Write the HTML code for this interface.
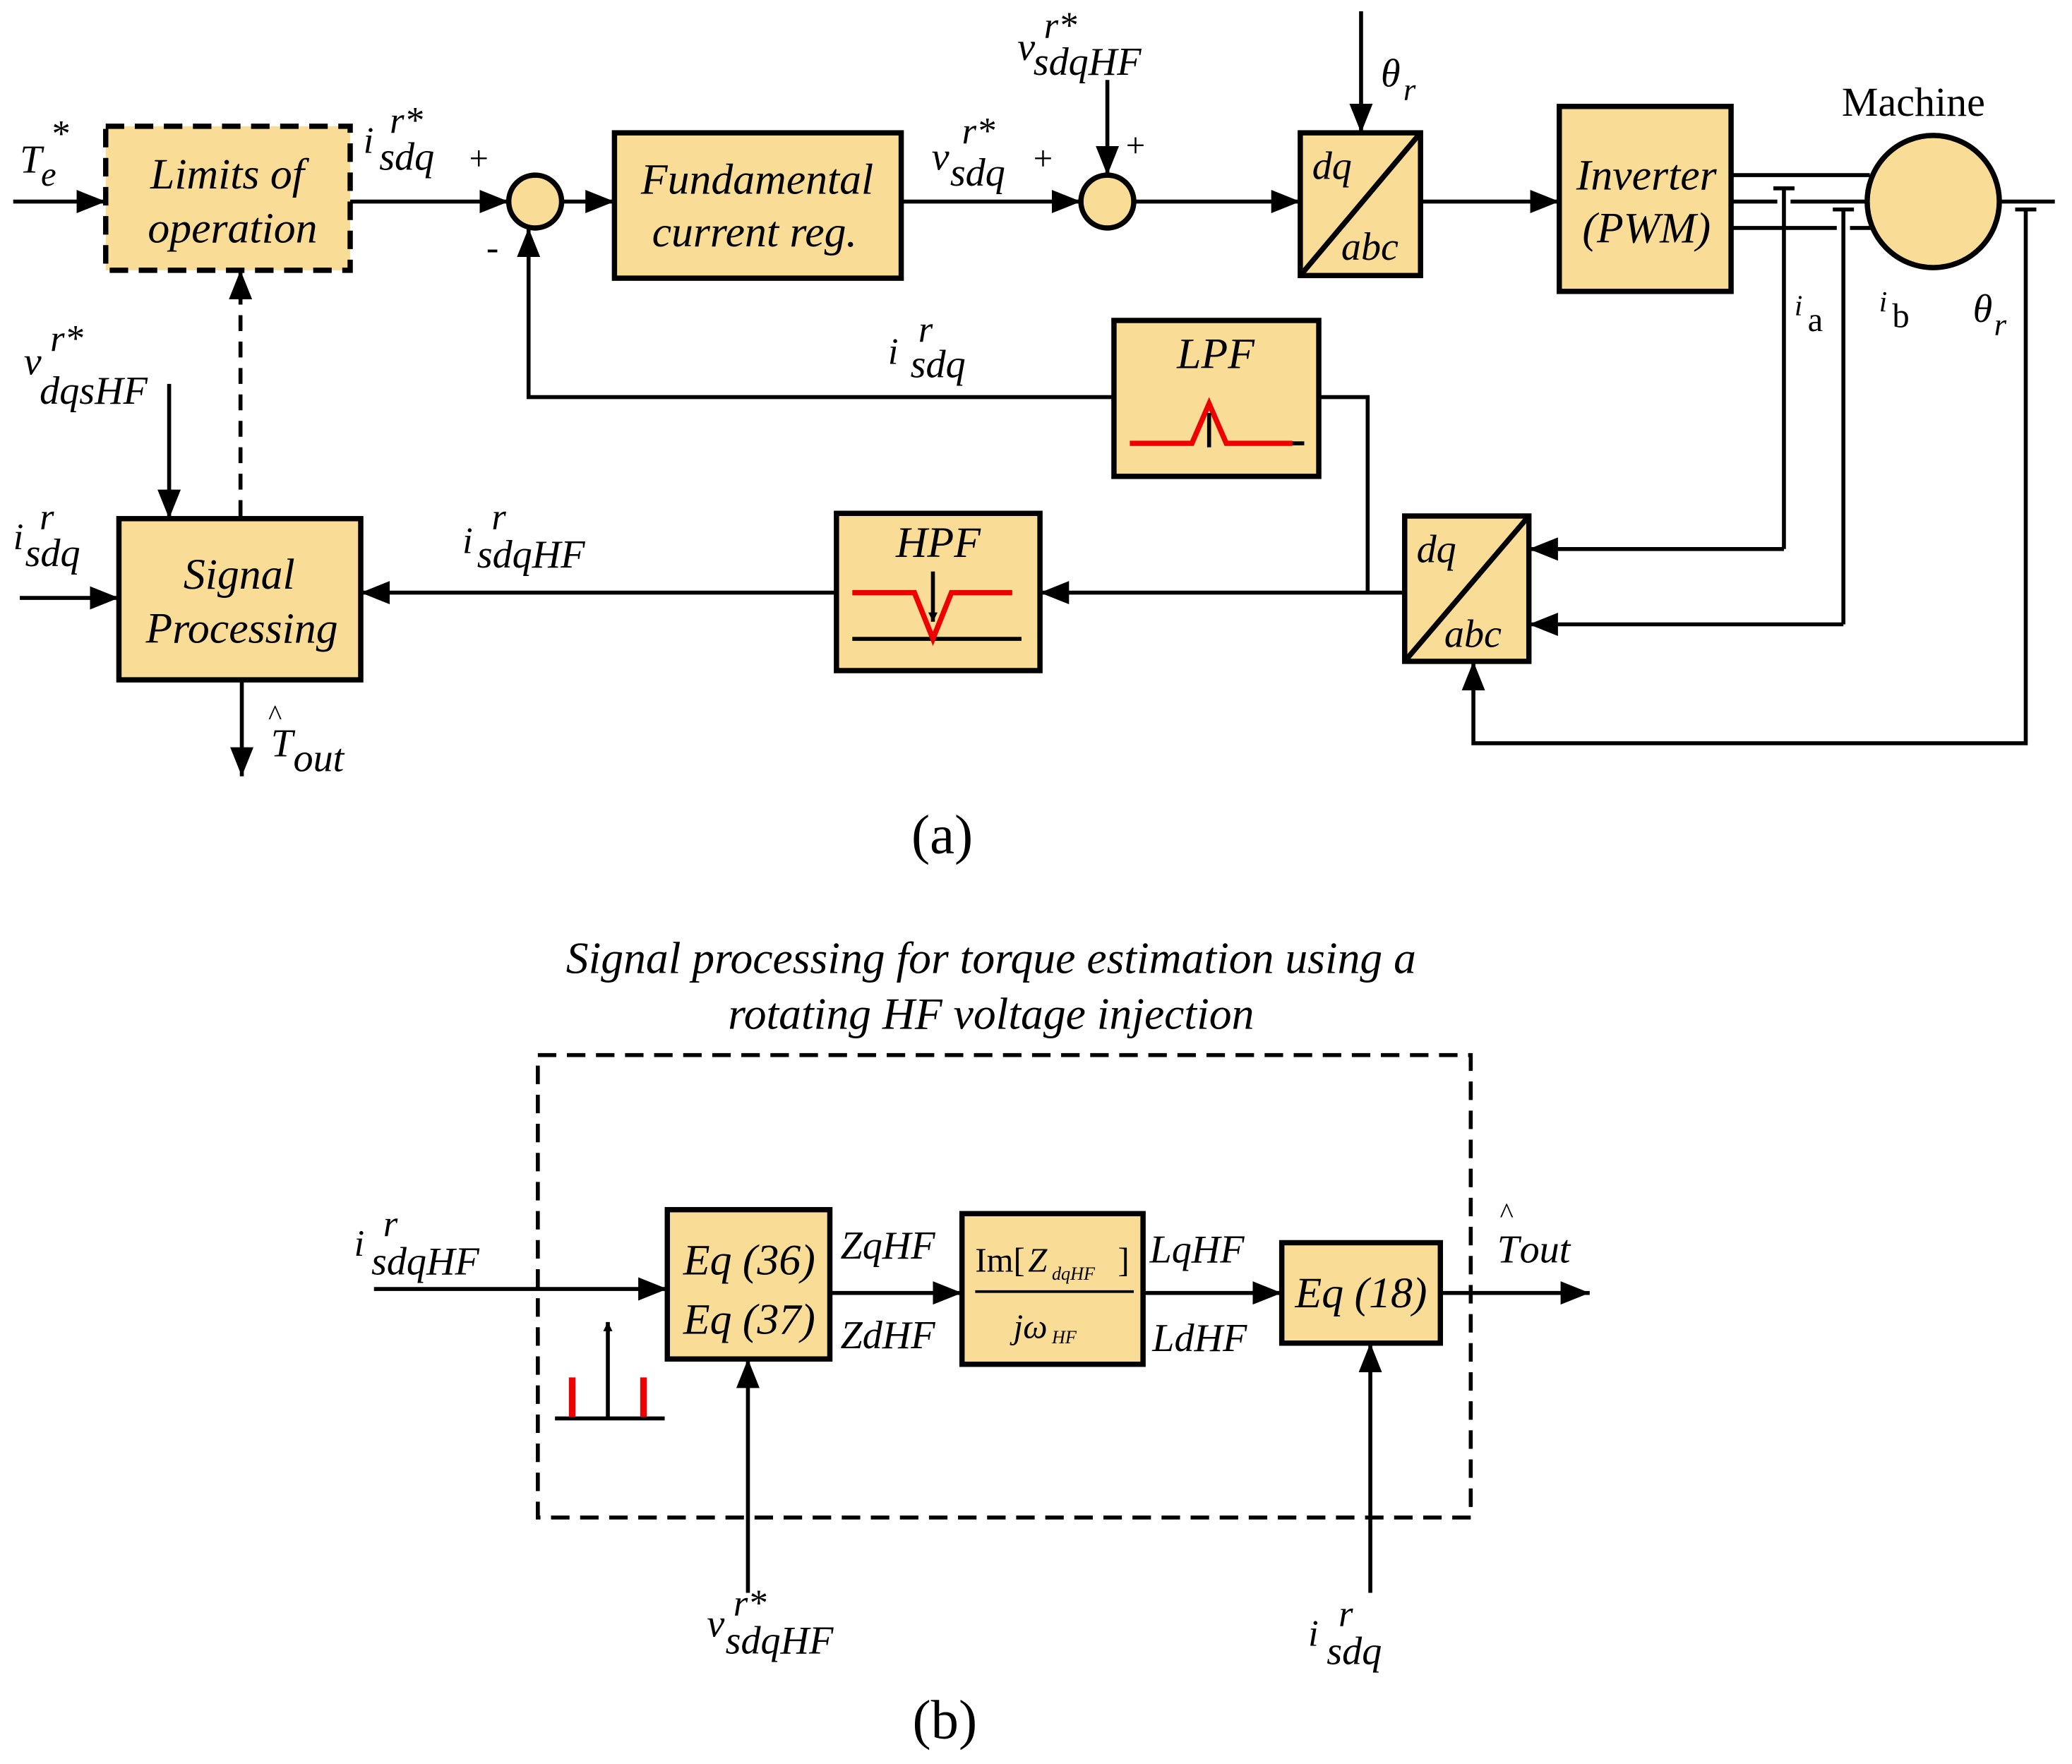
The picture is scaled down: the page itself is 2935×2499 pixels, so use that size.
<!DOCTYPE html>
<html><head><meta charset="utf-8"><style>
html,body{margin:0;padding:0;background:#fff;}
svg{display:block;}
text{font-family:"Liberation Serif","DejaVu Serif",serif;font-style:italic;fill:#000;}
.n{font-style:normal;}
</style></head><body>
<svg width="2935" height="2499" viewBox="0 0 1568 1334" xmlns="http://www.w3.org/2000/svg">
<defs>
<marker id="a" viewBox="0 0 10 10" refX="10" refY="5" markerWidth="7" markerHeight="7" orient="auto" markerUnits="userSpaceOnUse">
<path d="M0,0 L10,5 L0,10 z" fill="#000"/></marker>
<marker id="A" viewBox="0 0 10 10" refX="10" refY="5" markerWidth="22" markerHeight="22" orient="auto" markerUnits="userSpaceOnUse">
<path d="M0,1 L10,5 L0,9 z" fill="#000"/></marker>
</defs>
<g stroke="#000" stroke-width="3" fill="none">
<line x1="10" y1="152" x2="80" y2="152" marker-end="url(#A)"/>
<line x1="265" y1="152" x2="385" y2="152" marker-end="url(#A)"/>
<line x1="425" y1="152" x2="465" y2="152" marker-end="url(#A)"/>
<line x1="682" y1="152" x2="818" y2="152" marker-end="url(#A)"/>
<line x1="838" y1="60" x2="838" y2="132" marker-end="url(#A)"/>
<line x1="858" y1="152" x2="984" y2="152" marker-end="url(#A)"/>
<line x1="1030" y1="8" x2="1030" y2="100" marker-end="url(#A)"/>
<line x1="1075" y1="152" x2="1180" y2="152" marker-end="url(#A)"/>
<line x1="1310" y1="132" x2="1415" y2="132"/>
<line x1="1310" y1="152" x2="1345" y2="152"/>
<line x1="1355" y1="152" x2="1413" y2="152"/>
<line x1="1310" y1="172" x2="1390" y2="172"/>
<line x1="1400" y1="172" x2="1418" y2="172"/>
<line x1="1342" y1="142" x2="1358" y2="142"/>
<line x1="1350" y1="142" x2="1350" y2="415"/>
<line x1="1350" y1="415" x2="1157" y2="415" marker-end="url(#A)"/>
<line x1="1387" y1="158" x2="1403" y2="158"/>
<line x1="1395" y1="158" x2="1395" y2="472"/>
<line x1="1395" y1="472" x2="1157" y2="472" marker-end="url(#A)"/>
<line x1="1513" y1="152" x2="1555" y2="152"/>
<line x1="1525" y1="158" x2="1541" y2="158"/>
<polyline points="1533,158 1533,562 1115,562 1115,500" marker-end="url(#A)"/>
<line x1="1063" y1="448" x2="787" y2="448" marker-end="url(#A)"/>
<polyline points="1035,448 1035,300 998,300"/>
<polyline points="843,300 400,300 400,172" marker-end="url(#A)"/>
<line x1="633" y1="448" x2="273" y2="448" marker-end="url(#A)"/>
<line x1="15" y1="452" x2="90" y2="452" marker-end="url(#A)"/>
<line x1="128" y1="290" x2="128" y2="392" marker-end="url(#A)"/>
<line x1="182" y1="390" x2="182" y2="204" stroke-dasharray="12,8" marker-end="url(#A)"/>
<line x1="183" y1="514" x2="183" y2="587" marker-end="url(#A)"/>
</g>
<g stroke="#000" stroke-width="4" fill="#f9dc96">
<rect x="80" y="95" width="185" height="109" stroke-dasharray="14,8"/>
<circle cx="405" cy="152" r="20"/>
<rect x="465" y="100" width="217" height="110"/>
<circle cx="838" cy="152" r="20"/>
<rect x="984" y="100" width="91" height="108"/>
<rect x="1180" y="80" width="130" height="140"/>
<circle cx="1463" cy="152" r="50"/>
<rect x="843" y="242" width="155" height="118"/>
<rect x="1063" y="390" width="94" height="110"/>
<rect x="633" y="388" width="154" height="119"/>
<rect x="90" y="392" width="183" height="122"/>
</g>
<g stroke="#000" stroke-width="4">
<line x1="984" y1="208" x2="1075" y2="100"/>
<line x1="1063" y1="500" x2="1157" y2="390"/>
</g>
<polyline points="855,335 902,335 915,305 928,335 978,335" stroke="#e00" stroke-width="4" fill="none"/>
<line x1="915" y1="312" x2="915" y2="338" stroke="#000" stroke-width="3"/>
<line x1="978" y1="335" x2="987" y2="335" stroke="#000" stroke-width="3"/>
<line x1="645" y1="483" x2="773" y2="483" stroke="#000" stroke-width="3"/>
<polyline points="645,448 692,448 706,483 720,448 766,448" stroke="#e00" stroke-width="4" fill="none"/>
<line x1="706" y1="432" x2="706" y2="470" stroke="#000" stroke-width="3" marker-end="url(#a)"/>
<g font-size="33">
<text x="172" y="142" text-anchor="middle">Limits of</text>
<text x="176" y="183" text-anchor="middle">operation</text>
<text x="573" y="146" text-anchor="middle">Fundamental</text>
<text x="571" y="186" text-anchor="middle">current reg.</text>
<text x="993" y="135" font-size="30">dq</text>
<text x="1015" y="196" font-size="30">abc</text>
<text x="1246" y="143" text-anchor="middle">Inverter</text>
<text x="1246" y="183" text-anchor="middle">(PWM)</text>
<text x="1448" y="87" class="n" font-size="31" text-anchor="middle">Machine</text>
<text x="920" y="278" text-anchor="middle">LPF</text>
<text x="710" y="421" text-anchor="middle">HPF</text>
<text x="1072" y="425" font-size="30">dq</text>
<text x="1093" y="489" font-size="30">abc</text>
<text x="181" y="445" text-anchor="middle">Signal</text>
<text x="183" y="486" text-anchor="middle">Processing</text>
<text x="15" y="130" font-size="30">T</text><text x="31" y="140" font-size="26">e</text><text x="38" y="110" font-size="28">*</text>
<text x="275" y="115" font-size="28">i</text><text x="295" y="100" font-size="28">r*</text><text x="287" y="128" font-size="30">sdq</text>
<text x="355" y="128" class="n" font-size="26">+</text>
<text x="368" y="196" class="n" font-size="28">-</text>
<text x="705" y="128" font-size="30">v</text><text x="728" y="108" font-size="28">r*</text><text x="719" y="140" font-size="30">sdq</text>
<text x="782" y="128" class="n" font-size="26">+</text>
<text x="770" y="45" font-size="30">v</text><text x="790" y="28" font-size="28">r*</text><text x="782" y="56" font-size="30">sdqHF</text>
<text x="852" y="118" class="n" font-size="26">+</text>
<text x="1045" y="65" font-size="30">θ</text><text x="1062" y="75" font-size="24">r</text>
<text x="1358" y="238" font-size="22">i</text><text x="1368" y="250" class="n" font-size="26">a</text>
<text x="1422" y="235" font-size="22">i</text><text x="1432" y="247" class="n" font-size="26">b</text>
<text x="1493" y="243" font-size="30">θ</text><text x="1509" y="253" font-size="24">r</text>
<text x="672" y="275" font-size="28">i</text><text x="695" y="258" font-size="28">r</text><text x="689" y="285" font-size="30">sdq</text>
<text x="18" y="283" font-size="30">v</text><text x="38" y="265" font-size="28">r*</text><text x="30" y="305" font-size="30">dqsHF</text>
<text x="10" y="415" font-size="28">i</text><text x="30" y="400" font-size="28">r</text><text x="19" y="428" font-size="30">sdq</text>
<text x="350" y="418" font-size="28">i</text><text x="372" y="400" font-size="28">r</text><text x="361" y="429" font-size="30">sdqHF</text>
<text x="203" y="548" class="n" font-size="22">^</text>
<text x="205" y="572" font-size="30">T</text><text x="222" y="583" font-size="30">out</text>
<text x="713" y="645" class="n" font-size="42" text-anchor="middle">(a)</text>
</g>
<g stroke="#000" stroke-width="3" fill="none">
<rect x="407" y="798" width="706" height="350" stroke-dasharray="14,8"/>
<line x1="283" y1="975" x2="505" y2="975" marker-end="url(#A)"/>
<line x1="628" y1="978" x2="728" y2="978" marker-end="url(#A)"/>
<line x1="865" y1="978" x2="970" y2="978" marker-end="url(#A)"/>
<line x1="1090" y1="978" x2="1203" y2="978" marker-end="url(#A)"/>
<line x1="566" y1="1205" x2="566" y2="1028" marker-end="url(#A)"/>
<line x1="1037" y1="1205" x2="1037" y2="1016" marker-end="url(#A)"/>
<line x1="420" y1="1073" x2="503" y2="1073"/>
<line x1="460" y1="1073" x2="460" y2="1000" marker-end="url(#a)"/>
</g>
<line x1="433" y1="1042" x2="433" y2="1072" stroke="#e00" stroke-width="5"/>
<line x1="487" y1="1042" x2="487" y2="1072" stroke="#e00" stroke-width="5"/>
<g stroke="#000" stroke-width="4" fill="#f9dc96">
<rect x="505" y="915" width="123" height="113"/>
<rect x="728" y="918" width="137" height="114"/>
<rect x="970" y="940" width="120" height="76"/>
</g>
<line x1="738" y1="977" x2="858" y2="977" stroke="#000" stroke-width="2"/>
<g font-size="33">
<text x="750" y="736" text-anchor="middle" font-size="34">Signal processing for torque estimation using a</text>
<text x="750" y="778" text-anchor="middle" font-size="34">rotating HF voltage injection</text>
<text x="567" y="964" text-anchor="middle">Eq (36)</text>
<text x="567" y="1009" text-anchor="middle">Eq (37)</text>
<text x="1030" y="989" text-anchor="middle">Eq (18)</text>
<text x="738" y="962" class="n" font-size="26">Im[</text><text x="778" y="962" font-size="26">Z</text><text x="796" y="968" font-size="14">dqHF</text><text x="846" y="962" class="n" font-size="26">]</text>
<text x="767" y="1012" font-size="26">jω</text><text x="796" y="1016" font-size="14">HF</text>
<text x="636" y="952" font-size="30">ZqHF</text>
<text x="636" y="1020" font-size="30">ZdHF</text>
<text x="870" y="955" font-size="30">LqHF</text>
<text x="872" y="1022" font-size="30">LdHF</text>
<text x="1135" y="925" class="n" font-size="22">^</text>
<text x="1133" y="955" font-size="30">T</text><text x="1150" y="955" font-size="30">out</text>
<text x="268" y="950" font-size="28">i</text><text x="290" y="935" font-size="28">r</text><text x="281" y="964" font-size="30">sdqHF</text>
<text x="535" y="1238" font-size="30">v</text><text x="555" y="1222" font-size="28">r*</text><text x="549" y="1251" font-size="30">sdqHF</text>
<text x="990" y="1245" font-size="28">i</text><text x="1013" y="1230" font-size="28">r</text><text x="1004" y="1259" font-size="30">sdq</text>
<text x="715" y="1315" class="n" font-size="42" text-anchor="middle">(b)</text>
</g>
</svg>
</body></html>
